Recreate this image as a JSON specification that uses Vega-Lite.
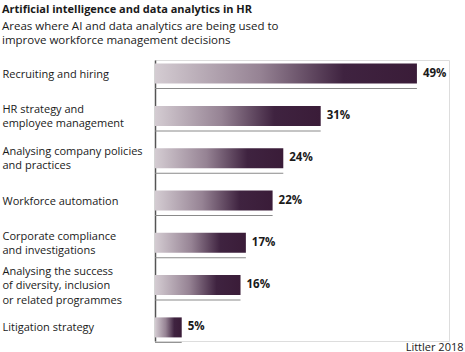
{
  "$schema": "https://vega.github.io/schema/vega-lite/v6.json",
  "width": 294,
  "height": 281,
  "autosize": {"type": "none"},
  "padding": {"left": 155, "top": 60, "right": 16, "bottom": 11},
  "background": "white",
  "title": {
    "text": "Artificial intelligence and data analytics in HR",
    "subtitle": ["Areas where AI and data analytics are being used to", "improve workforce management decisions"],
    "anchor": "start",
    "frame": "bounds",
    "offset": 14,
    "font": "Open Sans",
    "fontSize": 11,
    "fontWeight": "bold",
    "color": "#1a1a1a",
    "subtitleFont": "Open Sans",
    "subtitleFontSize": 11.5,
    "subtitleColor": "#1a1a1a",
    "subtitleLineHeight": 14,
    "subtitlePadding": 6
  },
  "data": {
    "values": [
      {"area": "Recruiting and hiring", "pct": 0.49},
      {"area": "HR strategy and|employee management", "pct": 0.31},
      {"area": "Analysing company policies|and practices", "pct": 0.24},
      {"area": "Workforce automation", "pct": 0.22},
      {"area": "Corporate compliance|and investigations", "pct": 0.17},
      {"area": "Analysing the success|of diversity, inclusion|or related programmes", "pct": 0.16},
      {"area": "Litigation strategy", "pct": 0.05}
    ]
  },
  "encoding": {
    "y": {
      "field": "area",
      "type": "nominal",
      "sort": null,
      "scale": {"paddingInner": 0.527, "paddingOuter": 0.085},
      "axis": {
        "title": null,
        "ticks": false,
        "domain": true,
        "domainColor": "#555555",
        "domainWidth": 1.5,
        "labelAlign": "left",
        "labelBaseline": "middle",
        "labelPadding": 153,
        "labelFont": "Open Sans",
        "labelFontSize": 11,
        "labelColor": "#1a1a1a",
        "labelLineHeight": 14.5,
        "labelLimit": 0,
        "labelOffset": {"expr": "-(length(split(datum.value, '|')) - 1) * 7.25 + 1"},
        "labelExpr": "split(datum.label, '|')"
      }
    },
    "x": {
      "field": "pct",
      "type": "quantitative",
      "scale": {"domain": [0, 0.55]},
      "axis": {
        "domain": false,
        "ticks": false,
        "labels": false,
        "grid": false,
        "title": "Littler 2018",
        "titleFont": "Open Sans",
        "titleFontSize": 11,
        "titleFontWeight": "normal",
        "titleColor": "#1a1a1a",
        "titleAlign": "right",
        "titleAnchor": "end",
        "titleX": 308,
        "titleY": 6,
        "titleBaseline": "middle"
      }
    }
  },
  "layer": [
    {
      "mark": {"type": "bar", "height": 1, "yOffset": 15, "color": "#8a8a8a"}
    },
    {
      "mark": {
        "type": "bar",
        "fill": {
          "gradient": "linear",
          "x1": 0, "y1": 0, "x2": 1, "y2": 0,
          "stops": [
            {"offset": 0, "color": "#d4ccd2"},
            {"offset": 0.4, "color": "#968394"},
            {"offset": 0.72, "color": "#3f2340"},
            {"offset": 1, "color": "#3a1c38"}
          ]
        }
      }
    },
    {
      "mark": {"type": "text", "align": "left", "dx": 6, "font": "Open Sans", "fontSize": 11.5, "fontWeight": "bold", "color": "#1a1a1a"},
      "encoding": {"text": {"field": "pct", "type": "quantitative", "format": ".0%"}}
    }
  ]
}
